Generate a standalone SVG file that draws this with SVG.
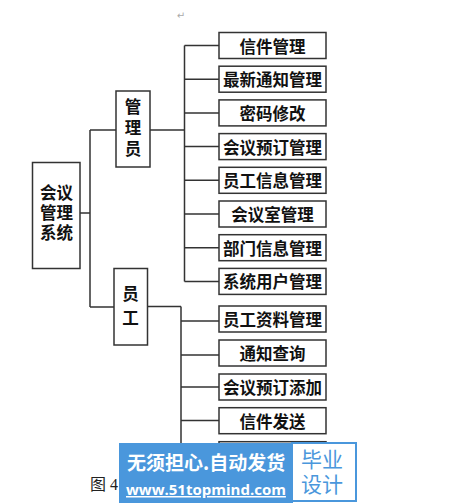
<svg xmlns="http://www.w3.org/2000/svg" width="473" height="503" viewBox="0 0 473 503">
<style>
.box{fill:#fff;stroke:#333;stroke-width:1.5}
.ln{fill:none;stroke:#333;stroke-width:1.5}
.t{font-family:"Noto Sans CJK SC",sans-serif;font-size:16.5px;font-weight:bold;fill:#111;text-anchor:middle;dominant-baseline:central}
.v{font-family:"Liberation Serif","Noto Sans CJK SC",sans-serif}
.wm{font-family:"Noto Sans CJK SC",sans-serif;fill:#fff;font-weight:bold}
.url{font-family:"Open Sans",sans-serif;fill:#fff;font-weight:bold;font-size:15px}
</style>
<rect width="473" height="503" fill="#fff"/>
<text x="181" y="19" font-family="DejaVu Sans,sans-serif" font-size="10" fill="#aaa" text-anchor="middle">↵</text>
<g id="connectors">
<path class="ln" d="M80 213H90M90 130V307M90 130H116M90 307H114"/>
<path class="ln" d="M150 130H184.5M184.5 45.5V281.5"/>
<path class="ln" d="M184.5 45.5H219M184.5 79.2H219M184.5 112.9H219M184.5 146.6H219M184.5 180.3H219M184.5 214H219M184.5 247.7H219M184.5 281.4H219"/>
<path class="ln" d="M147 306.5H181M181 306.5V460M181 321H219M181 355H219M181 387H219M181 420.5H219"/>
</g>
<g id="root"><rect class="box" x="32.5" y="162.5" width="47.5" height="106"/>
<text class="t v"><tspan x="56.5" y="193">会议</tspan><tspan x="56.5" y="213">管理</tspan><tspan x="56.5" y="233">系统</tspan></text></g>
<g id="admin"><rect class="box" x="116" y="91" width="34" height="76"/>
<text class="t v"><tspan x="133" y="107">管</tspan><tspan x="133" y="128">理</tspan><tspan x="133" y="149">员</tspan></text></g>
<g id="staff"><rect class="box" x="114" y="268.5" width="33.5" height="76.5"/>
<text class="t v"><tspan x="130.5" y="294">员</tspan><tspan x="130.5" y="318">工</tspan></text></g>
<g id="a1"><rect class="box" x="219" y="32.5" width="107" height="26"/><text class="t" x="272.5" y="45.5">信件管理</text></g>
<g id="a2"><rect class="box" x="219" y="66.2" width="107" height="26"/><text class="t" x="272.5" y="79.2">最新通知管理</text></g>
<g id="a3"><rect class="box" x="219" y="99.9" width="107" height="26"/><text class="t" x="272.5" y="112.9">密码修改</text></g>
<g id="a4"><rect class="box" x="219" y="133.6" width="107" height="26"/><text class="t" x="272.5" y="146.6">会议预订管理</text></g>
<g id="a5"><rect class="box" x="219" y="167.3" width="107" height="26"/><text class="t" x="272.5" y="180.3">员工信息管理</text></g>
<g id="a6"><rect class="box" x="219" y="201" width="107" height="26"/><text class="t" x="272.5" y="214">会议室管理</text></g>
<g id="a7"><rect class="box" x="219" y="234.7" width="107" height="26"/><text class="t" x="272.5" y="247.7">部门信息管理</text></g>
<g id="a8"><rect class="box" x="219" y="268.4" width="107" height="26"/><text class="t" x="272.5" y="281.4">系统用户管理</text></g>
<g id="s1"><rect class="box" x="219" y="306" width="107" height="26"/><text class="t" x="272.5" y="319">员工资料管理</text></g>
<g id="s2"><rect class="box" x="219" y="340" width="107" height="26"/><text class="t" x="272.5" y="353">通知查询</text></g>
<g id="s3"><rect class="box" x="219" y="374" width="107" height="26"/><text class="t" x="272.5" y="387">会议预订添加</text></g>
<g id="s4"><rect class="box" x="219" y="407.7" width="107" height="26"/><text class="t" x="272.5" y="420.7">信件发送</text></g>
<g id="s5"><rect class="box" x="219" y="441.7" width="107" height="26"/></g>
<text x="90" y="490" font-family="Liberation Serif,Noto Sans CJK SC,serif" font-size="16" fill="#222">图 4</text>
<g id="watermark">
<rect x="119" y="443" width="174" height="60" fill="#4a97dc"/>
<rect x="292" y="443" width="64" height="58" fill="#fff" stroke="#4a97dc" stroke-width="2"/>
<text class="wm" x="127" y="470" font-size="19">无须担心.自动发货</text>
<text class="url" x="126" y="495" text-decoration="underline">www.51topmind.com</text>
<text font-family="Liberation Sans,Noto Sans CJK SC,sans-serif" font-size="21" fill="#4a97dc" text-anchor="middle"><tspan x="322" y="467">毕业</tspan><tspan x="322" y="492">设计</tspan></text>
</g>
</svg>
